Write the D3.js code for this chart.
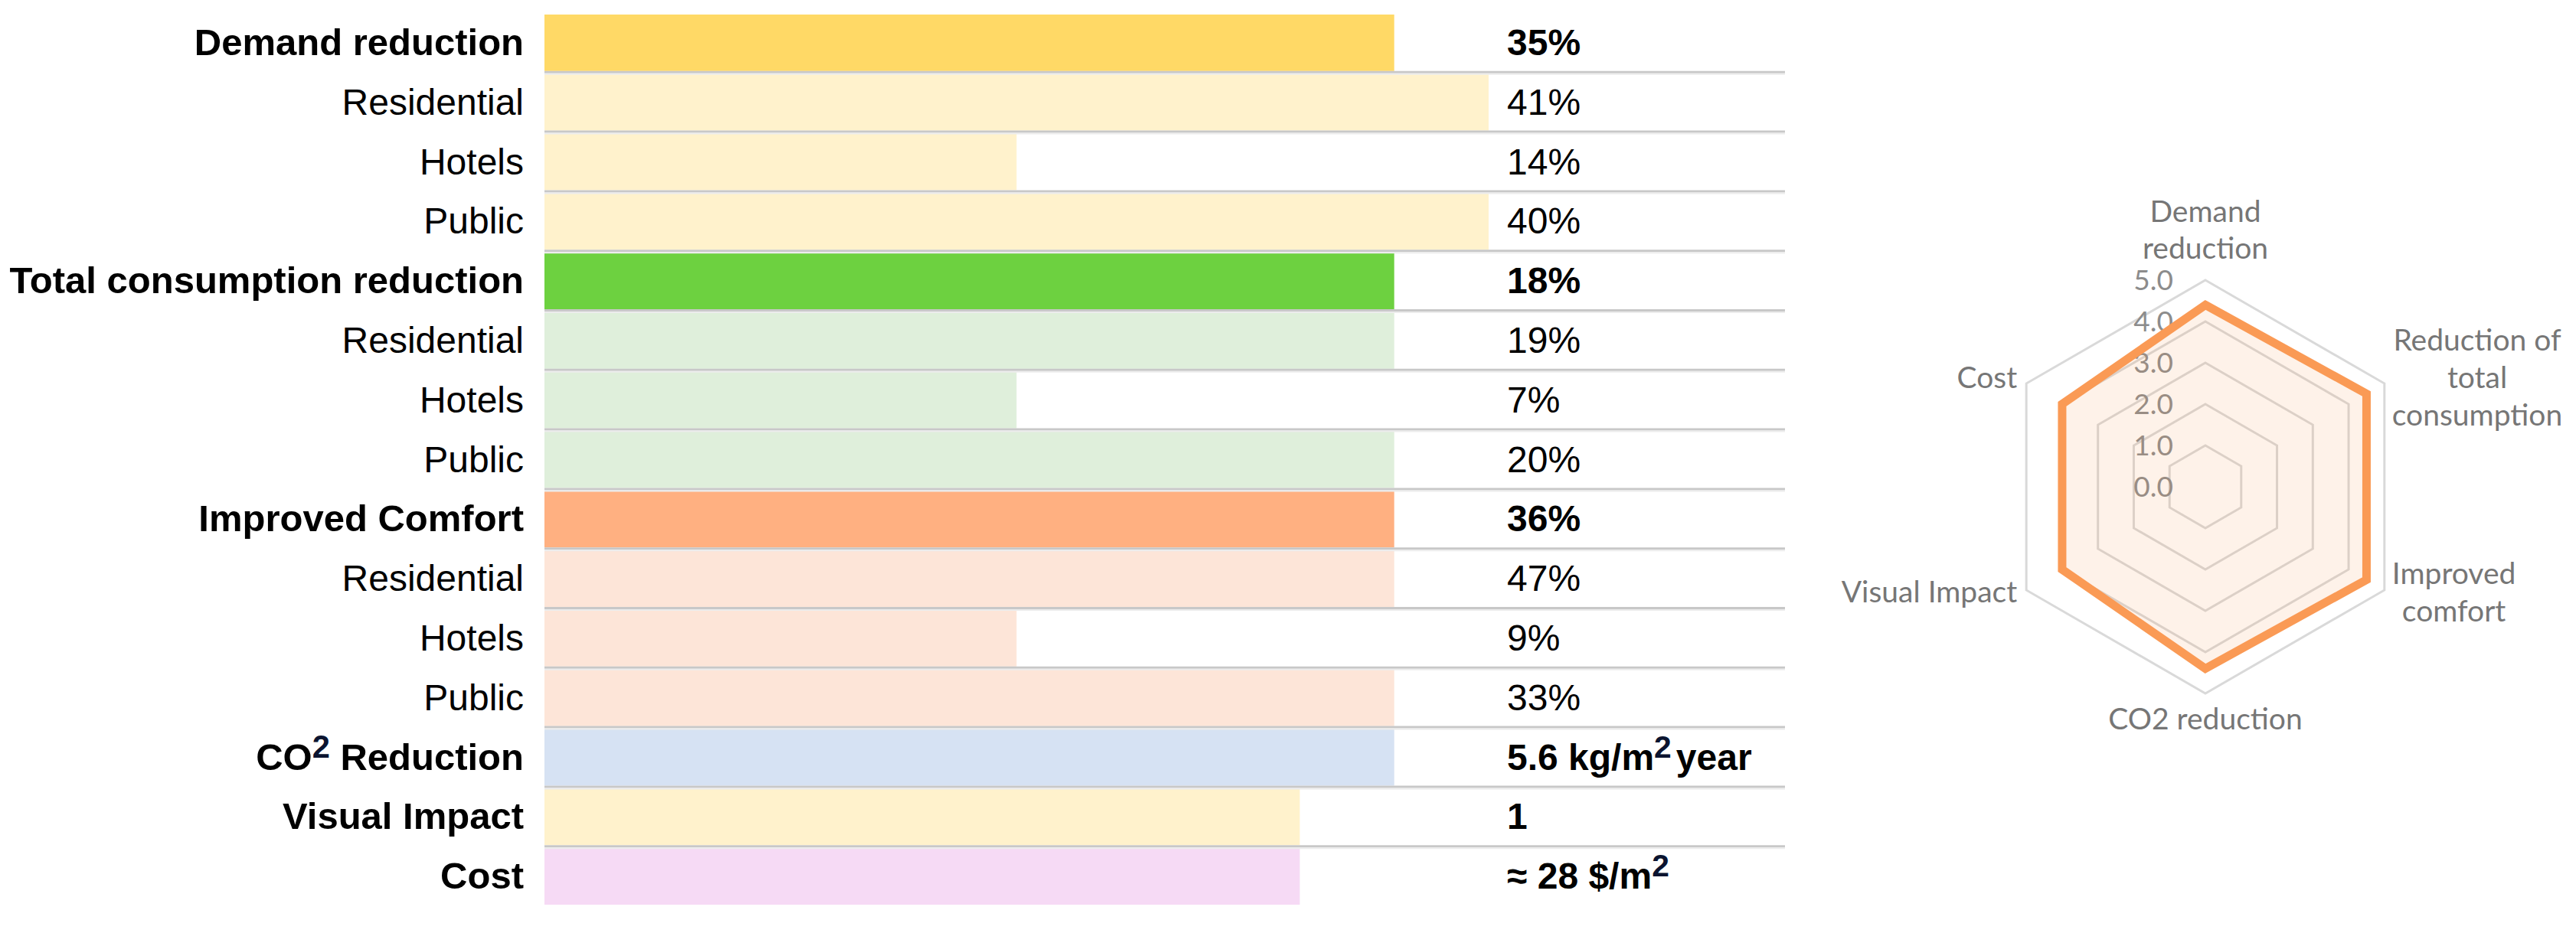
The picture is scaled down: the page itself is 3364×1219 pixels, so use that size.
<!DOCTYPE html>
<html><head><meta charset="utf-8">
<script src="https://cdn.jsdelivr.net/npm/d3@7"></script>
<style>body{margin:0;background:#fff} svg{display:block}</style>
</head><body>
<svg id="c" width="3364" height="1219"></svg>
<script>
// ---------- data ----------
const rowLabels = ["Demand reduction","Residential","Hotels","Public",
  "Total consumption reduction","Residential","Hotels","Public",
  "Improved Comfort","Residential","Hotels","Public",
  "CO^2 Reduction","Visual Impact","Cost"];
const rowMain = [true,false,false,false,true,false,false,false,true,false,false,false,true,true,true];
const rowValueText = ["35%","41%","14%","40%","18%","19%","7%","20%","36%","47%","9%","33%",
  "5.6 kg/m^2year","1","≈ 28 $/m^2"];
const barScore = [9,10,5,10, 9,9,5,9, 9,9,5,9, 9,8,8];
const barColors = ["#ffd966","#fff2cc","#fff2cc","#fff2cc",
  "#6dd140","#dfefdb","#dfefdb","#dfefdb",
  "#ffb081","#fde5d8","#fde5d8","#fde5d8",
  "#d6e2f3","#fff2cc","#f6daf5"];

const radarAxes = [["Demand","reduction"],["Reduction of","total","consumption"],["Improved","comfort"],
  ["CO2 reduction"],["Visual Impact"],["Cost"]];
const radarValues = [4.4,4.5,4.5,4.4,4.0,4.0];
const radarTicks = [0,1,2,3,4,5];

// ---------- table ----------
const svg = d3.select("#c");
const x = d3.scaleLinear().domain([0,10]).range([711,1944]);
const y = d3.scaleBand().domain(d3.range(rowLabels.length)).range([16,1183]);
const bw = y.bandwidth();
const T = svg.append("g");

T.selectAll("rect.bar").data(barScore).join("rect")
  .attr("x", x(0)).attr("y", (d,i)=>y(i)+3)
  .attr("width", d=>x(d)-x(0)).attr("height", bw-4)
  .attr("fill", (d,i)=>barColors[i]);

const seps = d3.range(rowLabels.length-1);
T.selectAll("line.sep").data(seps).join("line")
  .attr("x1", x(0)).attr("x2", 2331)
  .attr("y1", i=>y(i)+bw+0.5).attr("y2", i=>y(i)+bw+0.5)
  .attr("stroke","#c8c8c8").attr("stroke-width",3);
T.selectAll("line.sep2").data(seps).join("line")
  .attr("x1", x(0)).attr("x2", 2331)
  .attr("y1", i=>y(i)+bw+3).attr("y2", i=>y(i)+bw+3)
  .attr("stroke","#ececec").attr("stroke-width",2);

function richText(sel, str, supColor){
  const parts = str.split("^");
  sel.append("tspan").text(parts[0]);
  for (let k=1;k<parts.length;k++){
    sel.append("tspan").attr("dy",-16).attr("font-size","0.85em").attr("fill",supColor).text(parts[k][0]);
    const rest = parts[k].slice(1);
    sel.append("tspan").attr("dy",16).attr("dx", (rest.length && rest[0]!==" ")?6:0).text(rest);
  }
}

rowLabels.forEach((lab,i)=>{
  const t = T.append("text")
    .attr("x",684).attr("y", y(i)+bw/2+17)
    .attr("text-anchor","end")
    .attr("font-family","'Liberation Sans', Arial, sans-serif")
    .attr("font-size", rowMain[i]?49:48)
    .attr("font-weight", rowMain[i]?"bold":"normal")
    .attr("fill","#000");
  richText(t, lab, "#0b1430");
  const v = T.append("text")
    .attr("x",1968).attr("y", y(i)+bw/2+17)
    .attr("font-family","'Liberation Sans', Arial, sans-serif")
    .attr("font-size", 48)
    .attr("font-weight", rowMain[i]?"bold":"normal")
    .attr("fill","#000");
  richText(v, rowValueText[i], "#0b1430");
});

// ---------- radar ----------
const cx = 2880, cy = 636;
const r = d3.scaleLinear().domain([0,5]).range([0,270]);
const n = radarAxes.length;
const ang = i => i*2*Math.PI/n;
const R = svg.append("g").attr("transform",`translate(${cx},${cy})`);
const radial = d3.lineRadial().angle((d,i)=>ang(i)).radius(d=>r(d)).curve(d3.curveLinearClosed);

R.selectAll("path.grid").data(radarTicks.filter(t=>t>0)).join("path")
  .attr("d", t=>radial(d3.range(n).map(()=>t)))
  .attr("fill","none").attr("stroke","#d9d9d9").attr("stroke-width",3);

R.selectAll("text.tick").data(radarTicks).join("text")
  .attr("x",-42).attr("y",t=>-r(t)+4)
  .attr("text-anchor","end").attr("dominant-baseline","middle")
  .attr("font-family","Lato, 'Open Sans', sans-serif").attr("font-size",37)
  .attr("fill","#8c8c8c").text(t=>d3.format(".1f")(t));

R.append("path").attr("d", radial(radarValues))
  .attr("fill","rgba(247,150,70,0.12)")
  .attr("stroke","#fa9a55").attr("stroke-width",11).attr("stroke-linejoin","miter");

radarAxes.forEach((lines,i)=>{
  const a = ang(i);
  const vx = r(5)*Math.sin(a), vy = -r(5)*Math.cos(a);
  const g = R.append("g");
  const txts = lines.map(l=>g.append("text")
    .attr("font-family","Lato, 'Open Sans', sans-serif").attr("font-size",39)
    .attr("fill","#767676").attr("text-anchor","middle").text(l));
  const maxW = d3.max(txts, t=>t.node().getComputedTextLength());
  const m = lines.length;
  let bx, baselines;
  if (Math.abs(Math.sin(a))<1e-6){
    bx = vx;
    if (Math.cos(a)>0) baselines = lines.map((l,j)=>vy-28-(m-1-j)*48);
    else baselines = lines.map((l,j)=>vy+47+j*48);
  } else {
    bx = Math.sin(a)>0 ? vx+10+maxW/2 : vx-12-maxW/2;
    const c = vy - 10*Math.cos(a) - 2;
    baselines = lines.map((l,j)=>c+(j-(m-1)/2)*49+13);
  }
  txts.forEach((t,j)=>t.attr("x",bx).attr("y",baselines[j]));
});
</script>
</body></html>
